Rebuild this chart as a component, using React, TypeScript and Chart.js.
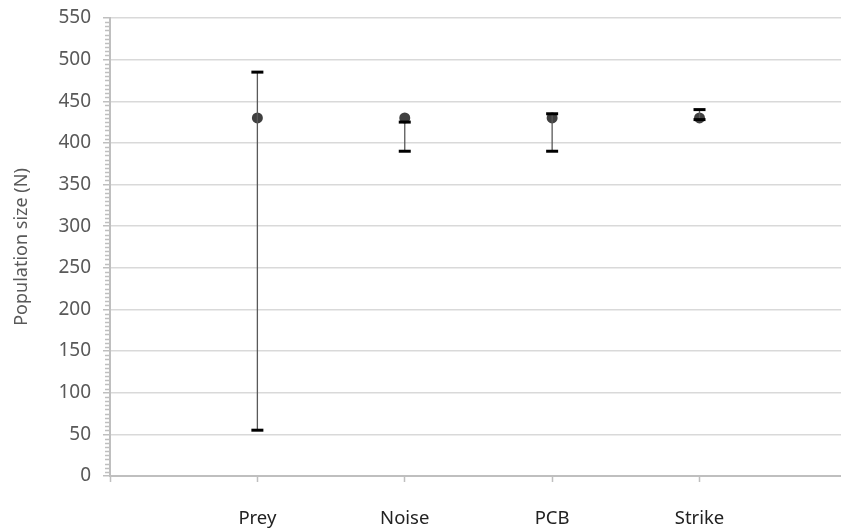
import React, { useEffect, useRef } from "react";
import { Chart, registerables } from "chart.js";

Chart.register(...registerables);

const categories = ["Prey", "Noise", "PCB", "Strike"];
const means = [430, 430, 430, 430];
const upper = [485, 425, 435, 440];
const lower = [55, 390, 390, 428];
const yTicks = [0, 50, 100, 150, 200, 250, 300, 350, 400, 450, 500, 550];
const minorStep = 5;

const FONT = "'Noto Sans', 'Open Sans', sans-serif";

const errorBarPlugin = {
  id: "errorBars",
  afterDatasetsDraw(chart: any) {
    const { ctx, scales } = chart;
    const xs = scales.x;
    const ys = scales.y;
    ctx.save();
    categories.forEach((_, i) => {
      const x = xs.getPixelForValue(i + 1);
      const yU = ys.getPixelForValue(upper[i]);
      const yL = ys.getPixelForValue(lower[i]);
      ctx.strokeStyle = "#595959";
      ctx.lineWidth = 1.3;
      ctx.beginPath();
      ctx.moveTo(x, yU);
      ctx.lineTo(x, yL);
      ctx.stroke();
      ctx.strokeStyle = "#000000";
      ctx.lineWidth = 3;
      [yU, yL].forEach((y) => {
        ctx.beginPath();
        ctx.moveTo(x - 6, y);
        ctx.lineTo(x + 6, y);
        ctx.stroke();
      });
    });
    ctx.restore();
  },
};

const minorTickPlugin = {
  id: "minorTicks",
  afterDraw(chart: any) {
    const { ctx, scales } = chart;
    const ys = scales.y;
    const x0 = scales.x.left;
    ctx.save();
    ctx.strokeStyle = "#bfbfbf";
    ctx.lineWidth = 1.5;
    for (let v = yTicks[0]; v <= yTicks[yTicks.length - 1]; v += minorStep) {
      if (v % 50 === 0) continue;
      const y = Math.round(ys.getPixelForValue(v)) + 0.5;
      ctx.beginPath();
      ctx.moveTo(x0 - 5, y);
      ctx.lineTo(x0, y);
      ctx.stroke();
    }
    ctx.restore();
  },
};

export default function App() {
  const ref = useRef<HTMLCanvasElement>(null);
  useEffect(() => {
    document.body.style.margin = "0";
    const chart = new Chart(ref.current as HTMLCanvasElement, {
      type: "scatter",
      data: {
        datasets: [
          {
            data: means.map((m, i) => ({ x: i + 1, y: m })),
            pointRadius: 5.5,
            pointHoverRadius: 5.5,
            backgroundColor: "#404040",
            borderColor: "#404040",
            borderWidth: 0,
          },
        ],
      },
      options: {
        animation: false,
        responsive: false,
        events: [],
        layout: { autoPadding: false, padding: { top: 18, right: 0, left: 0, bottom: 0 } },
        plugins: { legend: { display: false }, tooltip: { enabled: false } },
        scales: {
          x: {
            type: "linear",
            min: 0,
            max: 4.96,
            afterBuildTicks: (scale: any) => {
              scale.ticks = [0, 1, 2, 3, 4].map((v) => ({ value: v }));
            },
            afterFit: (scale: any) => {
              scale.height = 53;
              scale.paddingRight = 0;
              scale.paddingLeft = 0;
            },
            grid: {
              drawOnChartArea: false,
              tickLength: 6,
              tickColor: "#bfbfbf",
              tickWidth: 1.5,
            },
            border: { color: "#bfbfbf", width: 2 },
            ticks: {
              padding: 26,
              maxRotation: 0,
              autoSkip: false,
              color: "#222222",
              font: { family: FONT, size: 18.5 },
              callback: (v: any) => (v >= 1 && v <= 4 ? categories[v - 1] : ""),
            },
          },
          y: {
            min: 0,
            max: 550,
            afterBuildTicks: (scale: any) => {
              scale.ticks = yTicks.map((v) => ({ value: v }));
            },
            afterFit: (scale: any) => {
              scale.width = 110;
              scale.paddingTop = 0;
              scale.paddingBottom = 0;
            },
            grid: {
              color: "#d9d9d9",
              lineWidth: 1.5,
              tickLength: 7,
              tickColor: "#bfbfbf",
              tickWidth: 1.5,
            },
            border: { color: "#bfbfbf", width: 2 },
            title: {
              display: true,
              text: "Population size (N)",
              color: "#595959",
              font: { family: FONT, size: 18 },
              padding: { top: 11, bottom: 0 },
            },
            ticks: {
              padding: 12,
              color: "#595959",
              font: { family: FONT, size: 19 },
            },
          },
        },
      },
      plugins: [errorBarPlugin, minorTickPlugin],
    });
    return () => chart.destroy();
  }, []);
  return (
    <div style={{ position: "absolute", left: 0, top: 0, width: 841, height: 529 }}>
      <canvas ref={ref} width={841} height={529} style={{ width: 841, height: 529 }} />
    </div>
  );
}
